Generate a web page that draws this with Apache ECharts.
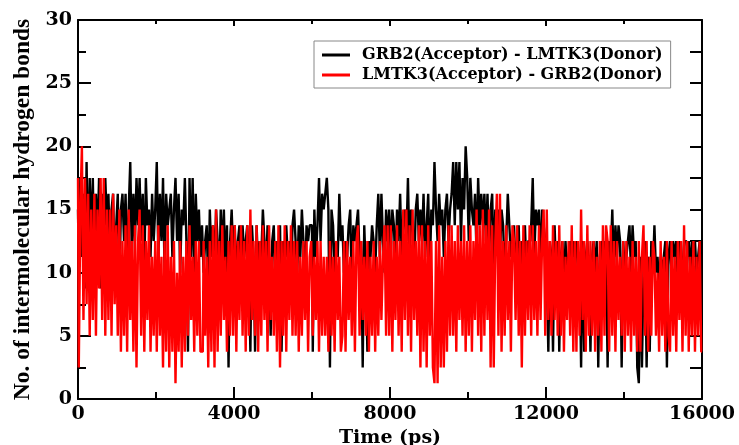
<!DOCTYPE html>
<html>
<head>
<meta charset="utf-8">
<script src="https://cdn.jsdelivr.net/npm/echarts@6/dist/echarts.min.js"></script>
<style>html,body{margin:0;padding:0;background:#fff;}#c{width:739px;height:445px;}</style>
</head>
<body>
<div id="c"></div>
<script>
// ---- data (one value every 40 ps, 0..16000 ps) ----
const samplePs = 40;
const seriesNames = ['GRB2(Acceptor) - LMTK3(Donor)', 'LMTK3(Acceptor) - GRB2(Donor)'];
const xTicks = [0, 4000, 8000, 12000, 16000];
const yTicks = [0, 5, 10, 15, 20, 25, 30];

const grb2AcceptorBonds = [
15,10,17.5,11.25,16.25,8.75,18.75,10,17.5,12.5,
17.5,10,16.25,12.5,17.5,8.75,16.25,11.25,17.5,13.75,
16.25,11.25,15,16.25,10,13.75,16.25,8.75,15,16.25,
12.5,16.25,10,15,18.75,11.25,16.25,12.5,17.5,13.75,
17.5,12.5,16.25,10,17.5,13.75,15,11.25,16.25,12.5,
15,18.75,11.25,16.25,12.5,17.5,10,16.25,13.75,15,
16.25,11.25,15,17.5,12.5,16.25,10,15,13.75,17.5,
12.5,3.75,17.5,11.25,17.5,10,16.25,12.5,15,11.25,
13.75,10,12.5,13.75,8.75,15,11.25,13.75,10,15,
12.5,8.75,15,11.25,15,10,13.75,2.5,12.5,15,
11.25,13.75,8.75,12.5,13.75,10,13.75,11.25,12.5,13.75,
10,3.75,13.75,11.25,3.75,13.75,10,12.5,11.25,15,
12.5,10,13.75,11.25,5,12.5,13.75,8.75,12.5,11.25,
13.75,3.75,12.5,10,13.75,11.25,12.5,8.75,13.75,15,
12.5,10,13.75,11.25,15,12.5,8.75,13.75,12.5,13.75,
13.75,3.75,15,11.25,13.75,17.5,12.5,16.25,15,16.25,
17.5,15,2.5,15,13.75,10,12.5,11.25,16.25,12.5,
13.75,10,12.5,11.25,13.75,15,8.75,13.75,12.5,13.75,
15,11.25,12.5,2.5,13.75,10,3.75,12.5,11.25,13.75,
12.5,10,13.75,16.25,11.25,16.25,12.5,10,15,12.5,
15,11.25,15,13.75,10,15,12.5,16.25,11.25,13.75,
15,12.5,17.5,11.25,15,13.75,10,15,16.25,12.5,
15,12.5,16.25,11.25,13.75,16.25,10,15,13.75,18.75,
15,12.5,16.25,13.75,15,11.25,15,16.25,12.5,15,
16.25,18.75,13.75,18.75,15,18.75,12.5,17.5,15,20,
17.5,12.5,17.5,15,13.75,16.25,11.25,17.5,13.75,16.25,
13.75,16.25,12.5,16.25,11.25,15,16.25,10,15,13.75,
15,11.25,15,13.75,10,12.5,16.25,13.75,11.25,12.5,
13.75,10,12.5,13.75,8.75,12.5,11.25,13.75,10,12.5,
12.5,13.75,17.5,11.25,15,13.75,15,10,15,13.75,
12.5,10,3.75,12.5,11.25,3.75,13.75,10,12.5,3.75,
11.25,12.5,8.75,12.5,10,11.25,12.5,10,12.5,11.25,
12.5,10,11.25,2.5,12.5,3.75,11.25,12.5,10,3.75,
11.25,12.5,10,12.5,2.5,11.25,12.5,8.75,12.5,11.25,
2.5,12.5,11.25,15,10,13.75,11.25,13.75,12.5,2.5,
12.5,10,11.25,12.5,13.75,10,13.75,11.25,12.5,2.5,
1.25,11.25,2.5,10,12.5,2.5,11.25,3.75,12.5,10,
13.75,10,11.25,8.75,11.25,10,11.25,12.5,2.5,11.25,
12.5,10,12.5,11.25,12.5,8.75,12.5,11.25,10,12.5,
12.5,11.25,12.5,10,12.5,11.25,12.5,10,11.25,12.5,
11.25
];

const lmtk3AcceptorBonds = [
17.5,2.5,15,20,6.25,17.5,7.5,16.25,5,15,
6.25,16.25,5,15,8.75,17.5,6.25,17.5,5,15,
6.25,15,5,16.25,7.5,13.75,5,15,3.75,12.5,
5,13.75,3.75,15,6.25,12.5,3.75,13.75,2.5,12.5,
15,5,13.75,3.75,12.5,6.25,13.75,3.75,11.25,5,
12.5,3.75,13.75,5,11.25,2.5,12.5,3.75,13.75,2.5,
11.25,3.75,12.5,1.25,10,3.75,12.5,2.5,11.25,3.75,
12.5,5,13.75,6.25,11.25,3.75,12.5,5,12.5,3.75,
3.75,12.5,5,11.25,2.5,12.5,3.75,13.75,2.5,15,
3.75,12.5,5,13.75,6.25,11.25,3.75,12.5,5,13.75,
5,13.75,3.75,12.5,6.25,13.75,5,12.5,3.75,13.75,
5,15,6.25,12.5,5,13.75,3.75,12.5,5,13.75,
6.25,12.5,3.75,13.75,6.25,11.25,5,12.5,3.75,13.75,
2.5,12.5,5,13.75,3.75,12.5,6.25,13.75,5,12.5,
5,12.5,3.75,11.25,5,12.5,6.25,12.5,3.75,11.25,
12.5,5,11.25,6.25,12.5,3.75,12.5,5,11.25,5,
11.25,3.75,12.5,5,11.25,3.75,12.5,6.25,11.25,3.75,
5,12.5,3.75,12.5,6.25,11.25,5,12.5,3.75,12.5,
13.75,5,12.5,6.25,11.25,5,12.5,3.75,11.25,5,
12.5,3.75,11.25,5,12.5,6.25,11.25,13.75,5,13.75,
5,13.75,3.75,12.5,6.25,13.75,5,12.5,3.75,15,
6.25,15,5,13.75,3.75,15,6.25,12.5,5,13.75,
2.5,13.75,3.75,12.5,2.5,13.75,5,12.5,2.5,1.25,
12.5,1.25,13.75,2.5,11.25,2.5,12.5,3.75,13.75,5,
13.75,5,12.5,3.75,13.75,6.25,12.5,5,13.75,3.75,
12.5,5,13.75,3.75,12.5,6.25,15,5,13.75,3.75,
15,5,13.75,6.25,15,2.5,13.75,2.5,12.5,16.25,
5,16.25,3.75,12.5,5,13.75,6.25,12.5,3.75,13.75,
12.5,6.25,13.75,5,12.5,2.5,13.75,5,12.5,6.25,
13.75,5,13.75,6.25,12.5,5,13.75,6.25,12.5,15,
5,15,6.25,12.5,5,13.75,6.25,12.5,5,13.75,
5,12.5,3.75,11.25,6.25,12.5,5,13.75,3.75,12.5,
3.75,12.5,5,15,6.25,12.5,3.75,13.75,5,12.5,
5,12.5,3.75,11.25,5,12.5,3.75,13.75,5,13.75,
12.5,3.75,13.75,5,12.5,3.75,12.5,6.25,11.25,5,
12.5,3.75,12.5,5,11.25,3.75,12.5,5,11.25,3.75,
12.5,3.75,11.25,13.75,5,12.5,3.75,11.25,5,12.5,
11.25,5,10,3.75,12.5,5,11.25,3.75,12.5,5,
3.75,12.5,5,11.25,3.75,12.5,6.25,12.5,3.75,13.75,
5,12.5,3.75,11.25,5,12.5,3.75,11.25,5,12.5,
3.75
];

// ---- chart ----
const toPairs = arr => arr.map((v, i) => [i * samplePs, v]);
const serifBold = { fontFamily: 'DejaVu Serif', fontWeight: 'bold', color: '#000' };
const axisLineStyle = { show: true, onZero: false, lineStyle: { color: '#000', width: 2 } };
const plain = v => String(v);

const chart = echarts.init(document.getElementById('c'), null, { renderer: 'canvas' });
chart.setOption({
  animation: false,
  backgroundColor: '#fff',
  grid: { left: 78, right: 37, top: 20, bottom: 46, containLabel: false, outerBoundsMode: 'none' },
  legend: {
    orient: 'vertical',
    left: 314, top: 41,
    padding: [6, 8, 5, 8],
    itemGap: 4,
    itemWidth: 28, itemHeight: 3,
    icon: 'rect',
    borderColor: '#888', borderWidth: 1,
    backgroundColor: '#fff',
    textStyle: Object.assign({ fontSize: 16, padding: [0, 0, 0, 7] }, serifBold),
    data: seriesNames
  },
  xAxis: [{
    type: 'value', min: xTicks[0], max: xTicks[xTicks.length - 1], interval: 4000,
    position: 'bottom',
    axisLine: axisLineStyle,
    axisTick: { inside: true, length: 12, lineStyle: { color: '#000', width: 2 } },
    minorTick: { show: true, splitNumber: 2, length: 7, lineStyle: { color: '#000', width: 2 } },
    splitLine: { show: false },
    axisLabel: Object.assign({ fontSize: 19, margin: 6, formatter: plain }, serifBold),
    name: 'Time (ps)', nameLocation: 'middle', nameGap: 22,
    nameTextStyle: Object.assign({ fontSize: 19 }, serifBold)
  }, {
    type: 'value', min: xTicks[0], max: xTicks[xTicks.length - 1], interval: 4000,
    position: 'top',
    axisLine: axisLineStyle,
    axisTick: { inside: true, length: 6, lineStyle: { color: '#000', width: 2 } },
    minorTick: { show: true, splitNumber: 2, length: 4, lineStyle: { color: '#000', width: 2 } },
    splitLine: { show: false },
    axisLabel: { show: false }
  }],
  yAxis: [{
    type: 'value', min: yTicks[0], max: yTicks[yTicks.length - 1], interval: 5,
    position: 'left',
    axisLine: axisLineStyle,
    axisTick: { inside: true, length: 13, lineStyle: { color: '#000', width: 2 } },
    minorTick: { show: true, splitNumber: 2, length: 8, lineStyle: { color: '#000', width: 2 } },
    splitLine: { show: false },
    axisLabel: Object.assign({ fontSize: 19, margin: 6, formatter: plain }, serifBold),
    name: 'No. of intermolecular hydrogen bonds', nameLocation: 'middle', nameRotate: 90, nameGap: 42,
    nameTextStyle: { fontFamily: 'Liberation Serif', fontWeight: 'bold', fontSize: 23.5, color: '#000' }
  }, {
    type: 'value', min: yTicks[0], max: yTicks[yTicks.length - 1], interval: 5,
    position: 'right',
    axisLine: axisLineStyle,
    axisTick: { inside: true, length: 12, lineStyle: { color: '#000', width: 2 } },
    minorTick: { show: true, splitNumber: 2, length: 12, lineStyle: { color: '#000', width: 2 } },
    splitLine: { show: false },
    axisLabel: { show: false }
  }],
  series: [{
    name: seriesNames[0], type: 'line', xAxisIndex: 0, yAxisIndex: 0,
    data: toPairs(grb2AcceptorBonds),
    step: 'middle',
    showSymbol: false, symbol: 'none', silent: true,
    color: '#000000',
    lineStyle: { color: '#000000', width: 2.4, join: 'bevel' },
    z: 2
  }, {
    name: seriesNames[1], type: 'line', xAxisIndex: 0, yAxisIndex: 0,
    data: toPairs(lmtk3AcceptorBonds),
    step: 'middle',
    showSymbol: false, symbol: 'none', silent: true,
    color: '#ff0000',
    lineStyle: { color: '#ff0000', width: 2.4, join: 'bevel' },
    z: 3
  }]
});
</script>
</body>
</html>
